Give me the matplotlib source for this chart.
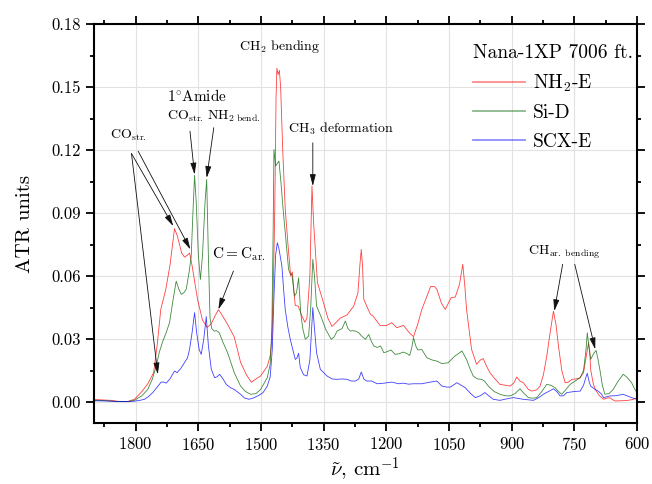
import matplotlib.pyplot as plt
from matplotlib.ticker import MultipleLocator, FormatStrFormatter

plt.rcParams['font.family'] = 'cmr10'
plt.rcParams['mathtext.fontset'] = 'cm'
plt.rcParams['axes.formatter.use_mathtext'] = True

# NH2-E
nh2_x = [1900, 1880, 1860, 1840, 1820, 1803, 1785, 1770, 1757, 1748, 1740, 1728, 1718, 1707, 1700,
         1690, 1683, 1676, 1671, 1665, 1652, 1640, 1629, 1620, 1610, 1602, 1595, 1580, 1564, 1549,
         1535, 1523, 1512, 1501, 1485, 1478, 1474, 1470, 1467, 1464, 1462, 1459, 1456, 1453, 1448,
         1442, 1435, 1429, 1425, 1420, 1418, 1411, 1402, 1395, 1390, 1383, 1378, 1374, 1365, 1350,
         1340, 1330, 1320, 1310, 1294, 1278, 1268, 1263, 1260, 1257, 1254, 1247, 1238, 1232, 1215,
         1199, 1187, 1175, 1159, 1145, 1135, 1125, 1115, 1094, 1085, 1079, 1068, 1059, 1045, 1035,
         1025, 1017, 1012, 1008, 996, 984, 975, 968, 960, 952, 940, 928, 915, 904, 895,
         888, 880, 872, 860, 852, 840, 832, 824, 816, 808, 800, 794, 788, 780, 772,
         764, 756, 746, 736, 728, 724, 718, 716, 713, 711, 705, 700, 690, 680, 670,
         665, 653, 640, 625, 610, 600]
nh2_y = [0.0012, 0.0010, 0.0008, 0.0003, 0.0002, 0.0013, 0.005, 0.009, 0.014, 0.028, 0.044, 0.0536, 0.065, 0.0826, 0.079,
         0.071, 0.069, 0.070, 0.071, 0.065, 0.049, 0.039, 0.0356, 0.037, 0.041, 0.044, 0.042, 0.037, 0.031, 0.019,
         0.013, 0.0094, 0.011, 0.0124, 0.017, 0.022, 0.03, 0.06, 0.092, 0.145, 0.159, 0.156, 0.158, 0.150, 0.12,
         0.092, 0.074, 0.060, 0.062, 0.050, 0.046, 0.0457, 0.041, 0.038, 0.040, 0.060, 0.103, 0.085, 0.057, 0.047,
         0.040, 0.036, 0.038, 0.040, 0.0415, 0.0457, 0.052, 0.066, 0.0727, 0.065, 0.049, 0.0457, 0.0418, 0.041, 0.0365,
         0.0365, 0.0378, 0.0354, 0.0365, 0.033, 0.0311, 0.037, 0.0441, 0.055, 0.055, 0.0537, 0.047, 0.0441, 0.0497, 0.050,
         0.056, 0.0656, 0.055, 0.0441, 0.0251, 0.018, 0.020, 0.0207, 0.017, 0.014, 0.011, 0.0084, 0.008, 0.0076, 0.009,
         0.0119, 0.010, 0.0092, 0.006, 0.0052, 0.0058, 0.0076, 0.013, 0.0219, 0.033, 0.0433, 0.037, 0.0267, 0.015, 0.0092,
         0.0095, 0.0108, 0.011, 0.0116, 0.014, 0.0188, 0.026, 0.0283, 0.024, 0.0156, 0.009, 0.006, 0.003, 0.0013, 0.002,
         0.002, 0.0005, 0.0006, 0.0007, 0.0012, 0.002]

# Si-D
sid_x = [1900, 1870, 1840, 1820, 1803, 1785, 1771, 1760, 1751, 1743, 1735, 1727, 1719, 1711, 1703,
         1697, 1691, 1685, 1679, 1672, 1667, 1663, 1659, 1655, 1650, 1645, 1640, 1634, 1630, 1626,
         1622, 1618, 1612, 1606, 1600, 1590, 1580, 1564, 1549, 1537, 1525, 1512, 1501, 1485, 1478,
         1474, 1471, 1469, 1465, 1460, 1457, 1452, 1447, 1442, 1434, 1430, 1426, 1420, 1415, 1410,
         1405, 1400, 1394, 1386, 1381, 1376, 1372, 1367, 1357, 1345, 1332, 1325, 1318, 1306, 1298,
         1292, 1286, 1280, 1274, 1266, 1259, 1250, 1242, 1236, 1230, 1222, 1214, 1206, 1198, 1189,
         1179, 1170, 1159, 1150, 1144, 1139, 1135, 1130, 1125, 1115, 1103, 1090, 1079, 1067, 1052,
         1036, 1028, 1019, 1008, 1000, 992, 982, 972, 965, 956, 942, 928, 916, 904, 892,
         880, 870, 860, 850, 840, 828, 816, 806, 796, 788, 780, 770, 760, 748, 736,
         728, 722, 719, 715, 711, 704, 698, 694, 689, 683, 677, 667, 657, 645, 633,
         625, 613, 605, 600]
sid_y = [0.0008, 0.0006, 0.0002, 0.0002, 0.0008, 0.003, 0.006, 0.011, 0.017, 0.024, 0.029, 0.033, 0.0378, 0.048, 0.0576,
         0.054, 0.0513, 0.052, 0.0537, 0.062, 0.0695, 0.09, 0.108, 0.095, 0.070, 0.0584, 0.070, 0.095, 0.106, 0.070,
         0.040, 0.035, 0.0338, 0.034, 0.033, 0.028, 0.0235, 0.014, 0.0076, 0.005, 0.0037, 0.004, 0.006, 0.0116, 0.018,
         0.035, 0.080, 0.1203, 0.1124, 0.1140, 0.1148, 0.104, 0.0917, 0.0807, 0.0632, 0.061, 0.0608, 0.0505, 0.052, 0.0592,
         0.0426, 0.035, 0.0299, 0.0314, 0.045, 0.068, 0.060, 0.0457, 0.041, 0.0346, 0.0299, 0.031, 0.0338, 0.035, 0.0386,
         0.035, 0.0338, 0.034, 0.0338, 0.033, 0.0314, 0.0299, 0.0322, 0.029, 0.0267, 0.026, 0.0267, 0.0235, 0.024, 0.0248,
         0.0227, 0.023, 0.0238, 0.023, 0.0222, 0.026, 0.0307, 0.027, 0.0248, 0.025, 0.0211, 0.020, 0.0195, 0.0183, 0.0187,
         0.0219, 0.023, 0.0243, 0.0203, 0.016, 0.0124, 0.011, 0.0108, 0.010, 0.0076, 0.005, 0.0037, 0.003, 0.0029, 0.004,
         0.0063, 0.004, 0.0021, 0.0018, 0.0021, 0.005, 0.0084, 0.008, 0.0068, 0.005, 0.0037, 0.006, 0.0084, 0.010, 0.0116,
         0.015, 0.025, 0.033, 0.026, 0.0203, 0.023, 0.0246, 0.021, 0.0156, 0.008, 0.0037, 0.004, 0.006, 0.010, 0.0132,
         0.012, 0.0092, 0.006, 0.0045]

# SCX-E
scx_x = [1900, 1870, 1840, 1820, 1803, 1790, 1779, 1770, 1759, 1749, 1739, 1733, 1727, 1718, 1707,
         1701, 1692, 1683, 1676, 1671, 1665, 1659, 1654, 1648, 1643, 1637, 1631, 1626, 1619, 1611,
         1605, 1599, 1591, 1583, 1573, 1564, 1549, 1540, 1529, 1517, 1505, 1495, 1485, 1478, 1473,
         1469, 1465, 1461, 1457, 1450, 1446, 1442, 1436, 1430, 1424, 1418, 1414, 1410, 1406, 1398,
         1390, 1383, 1376, 1372, 1367, 1358, 1342, 1330, 1318, 1306, 1294, 1284, 1274, 1266, 1260,
         1254, 1247, 1235, 1222, 1205, 1187, 1171, 1159, 1147, 1135, 1115, 1095, 1079, 1067, 1055,
         1047, 1031, 1021, 1011, 998, 987, 975, 964, 955, 944, 928, 912, 896, 872, 848,
         836, 824, 812, 800, 792, 784, 776, 768, 750, 736, 728, 722, 719, 715, 711,
         700, 693, 686, 680, 665, 650, 633, 613, 600]
scx_y = [0.0006, 0.0005, 0.0002, 0.0002, 0.0004, 0.0008, 0.0013, 0.0025, 0.0045, 0.007, 0.0095, 0.0095, 0.009, 0.011, 0.0148,
         0.014, 0.016, 0.0188, 0.021, 0.0251, 0.033, 0.0426, 0.033, 0.025, 0.0227, 0.030, 0.0407, 0.027, 0.0156, 0.0116,
         0.012, 0.0132, 0.011, 0.0084, 0.0068, 0.006, 0.0037, 0.002, 0.0013, 0.002, 0.0032, 0.0045, 0.0076, 0.012, 0.0251,
         0.050, 0.070, 0.0759, 0.073, 0.0648, 0.054, 0.0441, 0.036, 0.0299, 0.025, 0.0203, 0.021, 0.0232, 0.0164, 0.013,
         0.0124, 0.020, 0.045, 0.035, 0.0235, 0.0156, 0.0124, 0.011, 0.0108, 0.011, 0.0108, 0.010, 0.010, 0.011, 0.0143,
         0.011, 0.010, 0.010, 0.0087, 0.009, 0.0095, 0.0087, 0.009, 0.0085, 0.0087, 0.0087, 0.0095, 0.010, 0.0076, 0.0071,
         0.0071, 0.0092, 0.008, 0.0068, 0.004, 0.0021, 0.003, 0.0045, 0.003, 0.0013, 0.0008, 0.0015, 0.0021, 0.0013, 0.0008,
         0.002, 0.0037, 0.005, 0.0063, 0.005, 0.0029, 0.003, 0.0045, 0.005, 0.0052, 0.008, 0.012, 0.0137, 0.010, 0.0076,
         0.006, 0.0052, 0.004, 0.0021, 0.0029, 0.003, 0.0037, 0.0021, 0.0013]

fig, ax = plt.subplots(figsize=(6.52, 4.84), dpi=100)
fig.subplots_adjust(left=0.144, right=0.977, bottom=0.126, top=0.950)

ax.plot(nh2_x, nh2_y, color='red', lw=0.6, alpha=0.75, label=r'NH$_2$-E')
ax.plot(sid_x, sid_y, color='#006400', lw=0.6, alpha=0.75, label='Si-D')
ax.plot(scx_x, scx_y, color='blue', lw=0.6, alpha=0.75, label='SCX-E')

ax.set_xlim(1900, 600)
ax.set_ylim(-0.01, 0.18)
ax.xaxis.set_major_locator(MultipleLocator(150))
ax.xaxis.set_minor_locator(MultipleLocator(75))
ax.yaxis.set_major_locator(MultipleLocator(0.03))
ax.yaxis.set_minor_locator(MultipleLocator(0.015))
ax.yaxis.set_major_formatter(FormatStrFormatter('%.2f'))
ax.grid(True, which='major', color='#e2e2e2', lw=0.8)
ax.set_axisbelow(True)
for s in ax.spines.values():
    s.set_linewidth(1.5)
ax.tick_params(which='both', direction='out', top=True, right=True, width=1.3, labelsize=12)
ax.tick_params(which='major', length=6)
ax.tick_params(which='minor', length=3)

ax.set_xlabel(r'$\tilde{\nu}$, cm$^{-1}$', fontsize=15, labelpad=1)
ax.set_ylabel('ATR units', fontsize=15, labelpad=12)

# annotations
arr = dict(arrowstyle='-|>,head_length=0.7,head_width=0.18', color='#111111', lw=0.6,
           shrinkA=0, shrinkB=0, mutation_scale=10)

ax.text(1818, 0.127, r'CO$_{\mathrm{str.}}$', fontsize=10, ha='center', va='center')
ax.annotate('', xy=(1710, 0.0838), xytext=(1810, 0.1184), arrowprops=arr)
ax.annotate('', xy=(1669, 0.0727), xytext=(1794, 0.1195), arrowprops=arr)
ax.annotate('', xy=(1747, 0.0132), xytext=(1810, 0.1184), arrowprops=arr)

ax.text(1654, 0.146, r'1$^{\circ}$Amide', fontsize=11, ha='center', va='center')
ax.text(1681, 0.136, r'CO$_{\mathrm{str.}}$', fontsize=10, ha='center', va='center')
ax.annotate('', xy=(1659, 0.1084), xytext=(1670, 0.129), arrowprops=arr)
ax.text(1566, 0.136, r'NH$_{2\ \mathrm{bend.}}$', fontsize=10, ha='center', va='center')
ax.annotate('', xy=(1630, 0.1068), xytext=(1613, 0.1307), arrowprops=arr)

ax.text(1455, 0.1695, r'CH$_2$ bending', fontsize=10, ha='center', va='center')
ax.text(1308, 0.130, r'CH$_3$ deformation', fontsize=10, ha='center', va='center')
ax.annotate('', xy=(1376, 0.1029), xytext=(1376, 0.1235), arrowprops=arr)

ax.text(1552, 0.0703, r'C$=$C$_{\mathrm{ar.}}$', fontsize=11, ha='center', va='center')
ax.annotate('', xy=(1602, 0.0441), xytext=(1566, 0.0624), arrowprops=arr)

ax.text(775, 0.0711, r'CH$_{\mathrm{ar.\ bending}}$', fontsize=10, ha='center', va='center')
ax.annotate('', xy=(798, 0.0433), xytext=(778, 0.0656), arrowprops=arr)
ax.annotate('', xy=(700, 0.0251), xytext=(749, 0.0656), arrowprops=arr)

leg = ax.legend(title='Nana-1XP 7006 ft.', loc='upper right', frameon=False, fontsize=14,
                title_fontsize=14, handlelength=2.7, handletextpad=0.4, labelspacing=0.55,
                alignment='left', bbox_to_anchor=(1.024, 0.995))
for h in leg.get_lines():
    h.set_linewidth(1.3)
    h.set_alpha(0.45)

plt.savefig('out.png', dpi=100)
